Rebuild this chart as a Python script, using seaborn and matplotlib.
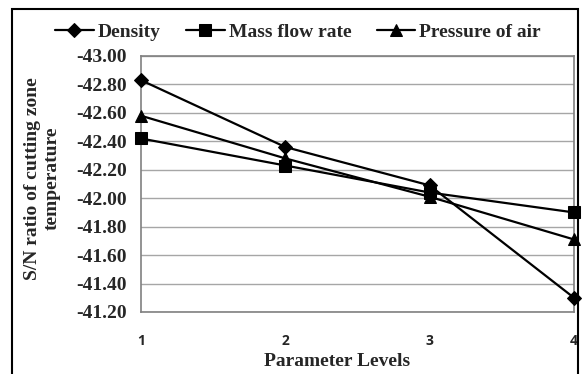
import matplotlib
matplotlib.use("Agg")
import matplotlib.pyplot as plt
import seaborn as sns
import pandas as pd
from matplotlib.patches import Rectangle

levels = [1, 2, 3, 4]
density = [-42.83, -42.36, -42.09, -41.30]
mass_flow = [-42.42, -42.23, -42.04, -41.90]
pressure = [-42.58, -42.28, -42.01, -41.71]
series_names = ["Density", "Mass flow rate", "Pressure of air"]
y_ticks = [-43.00, -42.80, -42.60, -42.40, -42.20, -42.00, -41.80, -41.60, -41.40, -41.20]

df = pd.DataFrame({
    "level": levels * 3,
    "value": density + mass_flow + pressure,
    "series": sum([[n] * 4 for n in series_names], []),
})

sns.set_theme(style="white")
serif = ["Liberation Serif", "DejaVu Serif"]

fig = plt.figure(figsize=(5.82, 3.74), dpi=100)
ax = fig.add_axes([141 / 582, 1 - 312 / 374, (574 - 141) / 582, (312 - 56) / 374])

markers = {"Density": "D", "Mass flow rate": "s", "Pressure of air": "^"}
sizes = {"Density": 7, "Mass flow rate": 8, "Pressure of air": 9}
for name in series_names:
    sub = df[df["series"] == name]
    sns.lineplot(data=sub, x="level", y="value", ax=ax, color="black", lw=1.6,
                 marker=markers[name], markersize=sizes[name], markeredgecolor="black",
                 label=name, clip_on=False, zorder=3)

ax.set_xlim(1, 4)
ax.set_ylim(-41.2, -43.0)  # -43 at top

ax.set_xticks(levels)
ax.set_xticklabels([str(l) for l in levels], fontfamily="Open Sans", fontweight="bold", fontsize=10)
ax.set_yticks(y_ticks)
ax.set_yticklabels([f"{v:.2f}" for v in y_ticks], fontfamily=serif, fontweight="bold", fontsize=14)
ax.tick_params(axis="x", length=0, pad=16)
ax.tick_params(axis="y", length=0, pad=10)

ax.yaxis.grid(True, color="#a6a6a6", lw=1)
ax.xaxis.grid(False)
for s in ax.spines.values():
    s.set_color("#808080")
    s.set_linewidth(1.2)

ax.set_xlabel("")
ax.set_ylabel("")
fig.text(337 / 582, 1 - 362 / 374, "Parameter Levels", ha="center", va="center",
         fontfamily=serif, fontweight="bold", fontsize=14)
fig.text(42.5 / 582, 1 - 178.5 / 374, "S/N ratio of cutting zone\ntemperature", rotation=90,
         ha="center", va="center", multialignment="center", fontfamily=serif,
         fontweight="bold", fontsize=14, linespacing=1.2)

handles, labels = ax.get_legend_handles_labels()
ax.get_legend().remove()
fig.legend(handles, labels, loc="center", bbox_to_anchor=(298 / 582, 1 - 32 / 374), ncol=3,
           frameon=False, prop={"family": serif, "weight": "bold", "size": 14},
           handlelength=2.0, columnspacing=1.3, handletextpad=0.2, borderaxespad=0,
           borderpad=0)

fig.patches.append(Rectangle((12 / 582, -0.02), (578 - 12) / 582, 1 - 9 / 374 + 0.02,
                             transform=fig.transFigure, fill=False, edgecolor="black", lw=1.5))

fig.savefig("out.png", dpi=100)
